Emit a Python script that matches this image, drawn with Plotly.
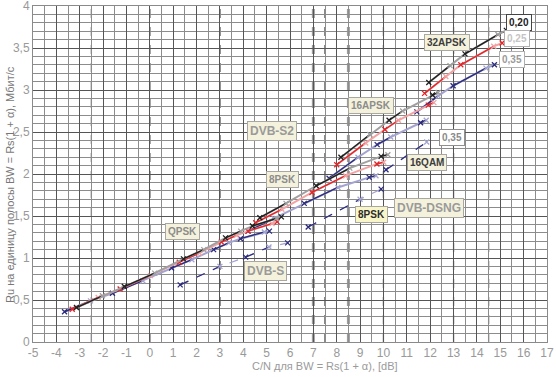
import plotly.graph_objects as go

# ---------------- DATA ----------------
# DVB-S2, roll-off 0.20
s2_020_qpsk_x = [-3.14, -2.03, -1.09, 0.21, 1.44, 2.31, 3.24, 3.89, 4.39, 5.41, 5.63]
s2_020_qpsk_y = [0.41, 0.55, 0.66, 0.82, 0.99, 1.10, 1.24, 1.32, 1.38, 1.47, 1.49]
s2_020_8psk_x = [4.71, 5.83, 7.12, 8.56, 9.90, 10.19]
s2_020_8psk_y = [1.48, 1.65, 1.86, 2.07, 2.21, 2.23]
s2_020_16apsk_x = [8.18, 9.42, 10.24, 10.82, 12.10, 12.34]
s2_020_16apsk_y = [2.20, 2.47, 2.64, 2.75, 2.94, 2.97]
s2_020_32apsk_x = [11.94, 12.85, 13.49, 14.90, 15.26]
s2_020_32apsk_y = [3.09, 3.29, 3.43, 3.66, 3.71]

# DVB-S2, roll-off 0.25
s2_025_qpsk_x = [-3.32, -2.21, -1.27, 0.03, 1.26, 2.13, 3.06, 3.71, 4.21, 5.23, 5.45]
s2_025_qpsk_y = [0.39, 0.53, 0.63, 0.79, 0.95, 1.06, 1.19, 1.27, 1.32, 1.41, 1.43]
s2_025_8psk_x = [4.53, 5.65, 6.94, 8.38, 9.72, 10.01]
s2_025_8psk_y = [1.42, 1.58, 1.78, 1.98, 2.12, 2.14]
s2_025_16apsk_x = [8.00, 9.24, 10.06, 10.64, 11.92, 12.16]
s2_025_16apsk_y = [2.11, 2.37, 2.53, 2.64, 2.82, 2.85]
s2_025_32apsk_x = [11.76, 12.67, 13.31, 14.72, 15.08]
s2_025_32apsk_y = [2.96, 3.16, 3.30, 3.52, 3.56]

# DVB-S2, roll-off 0.35
s2_035_qpsk_x = [-3.65, -2.54, -1.60, -0.30, 0.93, 1.80, 2.73, 3.38, 3.88, 4.90, 5.12]
s2_035_qpsk_y = [0.36, 0.49, 0.58, 0.73, 0.88, 0.98, 1.10, 1.18, 1.23, 1.31, 1.32]
s2_035_8psk_x = [4.20, 5.32, 6.61, 8.05, 9.39, 9.68]
s2_035_8psk_y = [1.32, 1.47, 1.65, 1.84, 1.96, 1.98]
s2_035_16apsk_x = [7.67, 8.91, 9.73, 10.31, 11.59, 11.83]
s2_035_16apsk_y = [1.95, 2.20, 2.35, 2.44, 2.61, 2.64]
s2_035_32apsk_x = [11.43, 12.34, 12.98, 14.39, 14.75]
s2_035_32apsk_y = [2.74, 2.93, 3.05, 3.26, 3.30]

# DVB-S (QPSK) and DVB-DSNG (8PSK, 16QAM), roll-off 0.35
dvbs_qpsk_x = [1.30, 3.00, 4.10, 5.10, 5.90]
dvbs_qpsk_y = [0.68, 0.90, 1.01, 1.13, 1.18]
dsng_8psk_x = [6.78, 9.00, 9.90]
dsng_8psk_y = [1.37, 1.70, 1.82]
dsng_16qam_x = [10.11, 11.85]
dsng_16qam_y = [2.05, 2.38]

# ticks
x_tick_vals = list(range(-5, 18))
x_tick_labels = [str(v) for v in x_tick_vals]
y_tick_vals = [0, 0.5, 1, 1.5, 2, 2.5, 3, 3.5, 4]
y_tick_labels = ["0", "0,5", "1", "1,5", "2", "2,5", "3", "3,5", "4"]

dark_dash_x = [-2.5, 0, 3, 7.5, 10, 13, 14.5]
gray_dash_x = [7, 8.5]

# ---------------- FIGURE ----------------
C = {
    "020": ("#1e1e1e", "#a0a0a0"),
    "025": ("#e0262a", "#f2a3a3"),
    "035": ("#2b2b7c", "#a3a3d0"),
}

groups = [
    ("035", [(s2_035_qpsk_x, s2_035_qpsk_y), (s2_035_8psk_x, s2_035_8psk_y),
             (s2_035_16apsk_x, s2_035_16apsk_y), (s2_035_32apsk_x, s2_035_32apsk_y)], "solid"),
    ("025", [(s2_025_qpsk_x, s2_025_qpsk_y), (s2_025_8psk_x, s2_025_8psk_y),
             (s2_025_16apsk_x, s2_025_16apsk_y), (s2_025_32apsk_x, s2_025_32apsk_y)], "solid"),
    ("020", [(s2_020_qpsk_x, s2_020_qpsk_y), (s2_020_8psk_x, s2_020_8psk_y),
             (s2_020_16apsk_x, s2_020_16apsk_y), (s2_020_32apsk_x, s2_020_32apsk_y)], "solid"),
    ("035", [(dvbs_qpsk_x, dvbs_qpsk_y), (dsng_8psk_x, dsng_8psk_y),
             (dsng_16qam_x, dsng_16qam_y)], "dash"),
]

fig = go.Figure()

for key, curves, dash in groups:
    dark, light = C[key]
    for xs, ys in curves:
        fig.add_trace(go.Scatter(x=xs, y=ys, mode="lines",
                                 line=dict(color=light, width=2 if dash == "solid" else 1.2, dash=dash),
                                 hoverinfo="skip"))
        sx, sy = [], []
        for i in range(0, len(xs) - 1, 2):
            sx += [xs[i], xs[i + 1], None]
            sy += [ys[i], ys[i + 1], None]
        fig.add_trace(go.Scatter(x=sx, y=sy, mode="lines",
                                 line=dict(color=dark, width=1.4 if dash == "solid" else 1.2, dash=dash),
                                 hoverinfo="skip"))
        fig.add_trace(go.Scatter(x=xs[0::2], y=ys[0::2], mode="markers",
                                 marker=dict(symbol="x-thin", size=5, line=dict(color=dark, width=1.3))))
        fig.add_trace(go.Scatter(x=xs[1::2], y=ys[1::2], mode="markers",
                                 marker=dict(symbol="x-thin", size=5, line=dict(color=light, width=1.3))))

shapes = []
for xv in gray_dash_x:
    shapes.append(dict(type="line", xref="x", yref="paper", x0=xv, x1=xv, y0=0, y1=1,
                       line=dict(color="#9c9c9c", width=3, dash="dash"), layer="below"))
for xv in dark_dash_x:
    shapes.append(dict(type="line", xref="x", yref="paper", x0=xv, x1=xv, y0=0, y1=1,
                       line=dict(color="#2a2a2a", width=1.2, dash="dash"), layer="below"))

FONT = "Liberation Sans, Arial, sans-serif"


def label(text, x, y, color="#8c8c8c", size=10, bg="#f4f2dc", border="#a8a8a0"):
    return dict(x=x, y=y, xref="x", yref="y", text="<b>" + text + "</b>", showarrow=False,
                font=dict(family=FONT, size=size, color=color), bgcolor=bg,
                bordercolor=border, borderwidth=1, borderpad=2)


annotations = [
    label("32APSK", 12.72, 3.57, color="#3c3c3c"),
    label("0,20", 15.8, 3.80, color="#222222", bg="#ffffff", border="#444444"),
    label("0,25", 15.72, 3.61, color="#c4c4c4", bg="#ffffff", border="#b0b0b0"),
    label("0,35", 15.5, 3.36, color="#9a9a9a", bg="#ffffff", border="#b0b0b0"),
    label("16APSK", 9.47, 2.82),
    label("DVB-S2", 5.23, 2.51, color="#9a9a9a", size=12),
    label("8PSK", 5.70, 1.93),
    label("0,35", 12.94, 2.44, color="#8a8a8a", bg="#ffffff", border="#909090"),
    label("16QAM", 11.87, 2.14, color="#3c3c3c"),
    label("DVB-DSNG", 11.95, 1.60, color="#9a9a9a", size=12),
    label("8PSK", 9.47, 1.52, color="#2c2c2c", bg="#f8f6c8"),
    label("QPSK", 1.42, 1.31),
    label("DVB-S", 4.93, 0.845, color="#9a9a9a", size=12),
    dict(x=0.568, y=-0.072, xref="paper", yref="paper", showarrow=False,
         text="C/N для BW = Rs(1 + α), [dB]", font=dict(family=FONT, size=11, color="#9a9a9a"),
         xanchor="center", yanchor="middle"),
    dict(x=-0.045, y=0.47, xref="paper", yref="paper", showarrow=False, textangle=-90,
         text="Ru на единицу полосы BW = Rs(1 + α), Мбит/с",
         font=dict(family=FONT, size=11, color="#777777"),
         xanchor="center", yanchor="middle"),
]

fig.update_layout(
    width=556, height=377,
    margin=dict(l=33, r=9, t=6, b=35, autoexpand=False),
    paper_bgcolor="white", plot_bgcolor="white",
    showlegend=False,
    separators=", ",
    shapes=shapes,
    annotations=annotations,
    font=dict(family=FONT),
)
fig.update_xaxes(range=[-5, 17], tickvals=x_tick_vals, ticktext=x_tick_labels,
                 tickfont=dict(size=12, color="#999999"), ticks="", automargin=False,
                 ticklabeloverflow="allow",
                 showgrid=True, gridcolor="#555555", gridwidth=1,
                 minor=dict(dtick=0.5, showgrid=True, gridcolor="#8c8c8c", gridwidth=1),
                 showline=True, linecolor="#8a8a8a", mirror=True, zeroline=False)
fig.update_yaxes(range=[0, 4], tickvals=y_tick_vals, ticktext=y_tick_labels,
                 tickfont=dict(size=12, color="#999999"), ticks="", automargin=False,
                 ticklabeloverflow="allow",
                 showgrid=True, gridcolor="#555555", gridwidth=1,
                 minor=dict(dtick=0.1, showgrid=True, gridcolor="#8c8c8c", gridwidth=1),
                 showline=True, linecolor="#8a8a8a", mirror=True, zeroline=False)

fig.write_html("out.html", config={"displayModeBar": False},
               post_script="document.body.style.margin='0';document.body.style.padding='0';")
